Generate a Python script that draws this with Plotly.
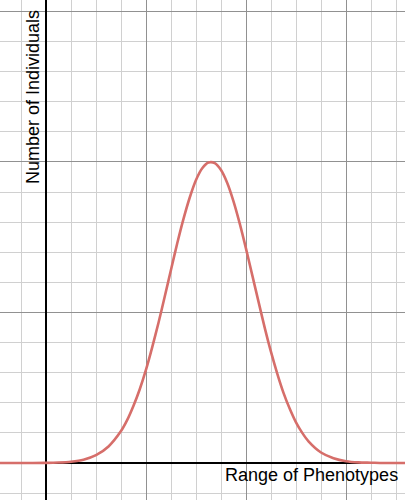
import plotly.graph_objects as go

# Curve samples (x and y in minor grid units)
x_vals = [-2.0, -1.0, 0.0, 0.5, 1.0, 1.5, 2.0, 2.5, 3.0, 3.25, 3.5, 3.75, 4.0, 4.25,
          4.5, 4.75, 5.0, 5.25, 5.5, 5.75, 6.0, 6.25, 6.5, 6.75, 7.0, 7.25, 7.5, 7.75,
          8.0, 8.25, 8.5, 8.75, 9.0, 9.25, 9.5, 9.75, 10.0, 10.25, 10.5, 11.0, 11.5,
          12.0, 12.5, 13.0, 13.5, 14.5]
y_vals = [0.0, 0.0, 0.005, 0.016, 0.044, 0.11, 0.26, 0.55, 1.06, 1.43, 1.90, 2.45, 3.10,
          3.85, 4.66, 5.53, 6.42, 7.30, 8.11, 8.82, 9.40, 9.79, 9.98, 9.96, 9.73, 9.30,
          8.69, 7.95, 7.12, 6.24, 5.36, 4.49, 3.69, 2.97, 2.33, 1.80, 1.35, 1.00, 0.72,
          0.35, 0.16, 0.06, 0.02, 0.01, 0.0, 0.0]

x_label = "Range of Phenotypes"
y_label = "Number of Individuals"

W, H = 405, 500

fig = go.Figure()
fig.add_trace(go.Scatter(
    x=x_vals, y=y_vals, mode="lines",
    line=dict(color="rgb(214,110,106)", width=2.6, shape="spline", smoothing=0.8),
    hoverinfo="skip", showlegend=False,
))

fig.update_layout(
    width=W, height=H,
    margin=dict(l=0, r=0, t=0, b=0),
    paper_bgcolor="white", plot_bgcolor="white",
    font=dict(family="Liberation Sans, Arial, sans-serif", size=18, color="black"),
    xaxis=dict(
        range=[-1.84, 14.36], showticklabels=False, ticks="",
        tick0=0, dtick=4, showgrid=True, gridcolor="rgb(145,145,145)", gridwidth=1,
        minor=dict(dtick=1, tick0=0, showgrid=True, gridcolor="rgb(208,208,208)", gridwidth=1),
        zeroline=True, zerolinecolor="black", zerolinewidth=2, showline=False, fixedrange=True,
    ),
    yaxis=dict(
        range=[-1.229, 15.38], showticklabels=False, ticks="",
        tick0=0, dtick=5, showgrid=True, gridcolor="rgb(145,145,145)", gridwidth=1,
        minor=dict(dtick=1, tick0=0, showgrid=True, gridcolor="rgb(208,208,208)", gridwidth=1),
        zeroline=True, zerolinecolor="black", zerolinewidth=2, showline=False, fixedrange=True,
    ),
    annotations=[
        dict(text=x_label, xref="paper", yref="paper", x=311 / W, y=1 - 475 / H,
             xanchor="center", yanchor="middle", showarrow=False,
             font=dict(size=18, color="black")),
        dict(text=y_label, xref="paper", yref="paper", x=33 / W, y=1 - 97 / H,
             xanchor="center", yanchor="middle", showarrow=False, textangle=-90,
             font=dict(size=18, color="black")),
    ],
)

fig.write_html(
    "out.html",
    config={"displayModeBar": False},
    post_script="document.body.style.margin='0px';document.body.style.overflow='hidden';",
)
